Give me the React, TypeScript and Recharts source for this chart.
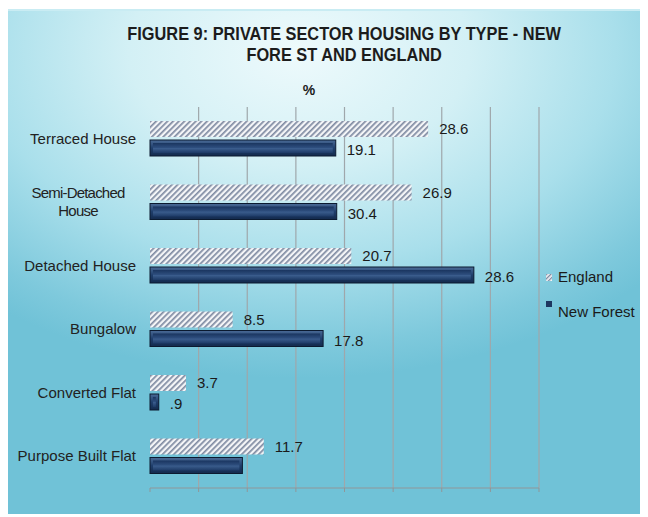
import { BarChart, Bar, XAxis, YAxis, CartesianGrid, LabelList } from 'recharts'

const categories = ['Terraced House', 'Semi-Detached\nHouse', 'Detached House', 'Bungalow', 'Converted Flat', 'Purpose Built Flat']
// bar lengths as drawn in the picture
const englandValues = [28.6, 26.9, 20.7, 8.5, 3.7, 11.7]
const newForestValues = [19.1, 19.2, 33.3, 17.8, 0.9, 9.5]
// value labels as printed in the picture
const englandLabels = ['28.6', '26.9', '20.7', '8.5', '3.7', '11.7']
const newForestLabels = ['19.1', '30.4', '28.6', '17.8', '.9', '']
const xTicks = [0, 5, 10, 15, 20, 25, 30, 35, 40]

const data = categories.map((name, i) => ({
  name,
  england: englandValues[i],
  newForest: newForestValues[i],
}))

const FONT = '"Liberation Sans", Arial, sans-serif'

const CategoryTick = (props: any) => {
  const { x, y, payload } = props
  const lines: string[] = String(payload.value).split('\n')
  if (lines.length === 1) {
    return (
      <text x={x} y={y} dy={5} textAnchor="end" fontSize={15} fill="#222" fontFamily={FONT}>
        {lines[0]}
      </text>
    )
  }
  return (
    <text x={x - 58} y={y} textAnchor="middle" fontSize={15} fill="#222" fontFamily={FONT} letterSpacing={-0.8}>
      {lines.map((l, i) => (
        <tspan key={i} x={x - 58} dy={i === 0 ? -4 : 18}>{l}</tspan>
      ))}
    </text>
  )
}

const makeLabel = (labels: string[], dy: number) => (props: any) => {
  const { x, y, width, height, index } = props
  const text = labels[index]
  if (!text) return null
  return (
    <text x={x + width + 11} y={y + height / 2 + dy} fontSize={15} fill="#1a1a1a" fontFamily={FONT}>
      {text}
    </text>
  )
}

const BevelBar = (props: any) => {
  const { x, y, width, height } = props
  if (!width || width <= 0) return null
  const inset = Math.min(3, width / 3)
  return (
    <g>
      <rect x={x} y={y} width={width} height={height} fill="url(#nfOuter)" stroke="#0b1a30" strokeWidth={1} />
      <rect x={x + inset} y={y + inset} width={Math.max(0, width - inset * 2)} height={height - inset * 2} fill="url(#nfInner)" />
    </g>
  )
}

export default function App() {
  return (
    <div style={{ position: 'relative', width: 640, height: 509 }}>
      <div
        style={{
          position: 'absolute',
          left: -2,
          top: 1,
          width: 650,
          height: 505,
          background:
            'radial-gradient(ellipse 75% 65% at 45% 8%, #eefafc 0%, #d3f0f5 35%, #a9dfeb 65%, #7ec9dc 90%, #70c2d7 100%)',
          borderTop: '2px solid #c9ecf3',
          borderLeft: '1px solid #6fb9cd',
          boxSizing: 'border-box',
        }}
      />
      <div
        style={{
          position: 'absolute',
          left: 0,
          top: 15,
          width: 673,
          textAlign: 'center',
          fontFamily: FONT,
          fontWeight: 'bold',
          fontSize: 19,
          lineHeight: '21px',
          color: '#1c1c1c',
        }}
      >
        <span style={{ display: 'inline-block', transform: 'scaleX(0.86)', transformOrigin: 'center' }}>
          FIGURE 9: PRIVATE SECTOR HOUSING BY TYPE - NEW
          <br />
          FORE ST AND ENGLAND
        </span>
      </div>
      <div
        style={{
          position: 'absolute',
          left: 294,
          top: 74,
          width: 14,
          textAlign: 'center',
          fontFamily: FONT,
          fontWeight: 'bold',
          fontSize: 14,
          color: '#1c1c1c',
        }}
      >
        %
      </div>
      <div style={{ position: 'absolute', left: 0, top: 0 }}>
        <BarChart
          width={640}
          height={500}
          data={data}
          layout="vertical"
          margin={{ top: 99, right: 109, bottom: 16, left: 0 }}
          barSize={16}
          barGap={3}
        >
          <defs>
            <pattern id="hatch" patternUnits="userSpaceOnUse" width={4} height={4} patternTransform="rotate(45)">
              <rect width={4} height={4} fill="#f4f5f7" />
              <rect width={1.7} height={4} fill="#7f8ba2" />
            </pattern>
            <linearGradient id="nfOuter" x1="0" y1="0" x2="0" y2="1">
              <stop offset="0%" stopColor="#4a6a96" />
              <stop offset="50%" stopColor="#203f6c" />
              <stop offset="100%" stopColor="#132a4d" />
            </linearGradient>
            <linearGradient id="nfInner" x1="0" y1="0" x2="0" y2="1">
              <stop offset="0%" stopColor="#1a355f" />
              <stop offset="45%" stopColor="#2d4d7d" />
              <stop offset="55%" stopColor="#3a5c8c" />
              <stop offset="100%" stopColor="#1d3a66" />
            </linearGradient>
          </defs>
          <CartesianGrid
            horizontal={false}
            stroke="#9fa7ab"
            strokeWidth={1.2}
            verticalCoordinatesGenerator={({ offset }: any) =>
              xTicks.slice(1).map((t) => offset.left + (offset.width * t) / 40)
            }
          />
          <XAxis
            type="number"
            domain={[0, 40]}
            ticks={xTicks}
            tickFormatter={() => ''}
            axisLine={{ stroke: '#8f9699', strokeWidth: 1.2 }}
            tickLine={{ stroke: '#8f9699' }}
            tickSize={4}
            height={4}
          />
          <YAxis
            type="category"
            dataKey="name"
            width={142}
            axisLine={false}
            tickLine={false}
            tickSize={0}
            tickMargin={14}
            interval={0}
            tick={<CategoryTick />}
          />
          <Bar dataKey="england" fill="url(#hatch)" isAnimationActive={false}>
            <LabelList dataKey="england" content={makeLabel(englandLabels, 5)} />
          </Bar>
          <Bar dataKey="newForest" shape={<BevelBar />} isAnimationActive={false}>
            <LabelList dataKey="newForest" content={makeLabel(newForestLabels, 7)} />
          </Bar>
        </BarChart>
      </div>
      <div
        style={{
          position: 'absolute',
          left: 538,
          top: 260,
          fontFamily: FONT,
          fontSize: 15,
          color: '#1a1a1a',
          lineHeight: '18px',
        }}
      >
        <div style={{ display: 'flex', alignItems: 'center', height: 18 }}>
          <svg width={6} height={7} style={{ marginRight: 6 }}>
            <rect width={6} height={7} fill="url(#legendHatch)" />
            <defs>
              <pattern id="legendHatch" patternUnits="userSpaceOnUse" width={3} height={3} patternTransform="rotate(45)">
                <rect width={3} height={3} fill="#f4f5f7" />
                <rect width={1.3} height={3} fill="#7f8ba2" />
              </pattern>
            </defs>
          </svg>
          England
        </div>
        <div style={{ display: 'flex', alignItems: 'flex-start', height: 18, marginTop: 15 }}>
          <svg width={6} height={6} style={{ marginRight: 6, marginTop: 0 }}>
            <rect width={6} height={6} fill="#1d3760" />
          </svg>
          <span style={{ marginTop: 2 }}>New Forest</span>
        </div>
      </div>
    </div>
  )
}
